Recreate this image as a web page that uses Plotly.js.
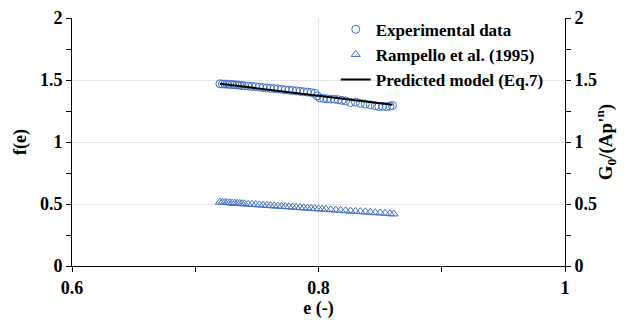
<!DOCTYPE html>
<html>
<head>
<meta charset="utf-8">
<script src="https://cdn.plot.ly/plotly-3.0.1.min.js"></script>
<style>html,body{margin:0;padding:0;background:#fff;}#chart{width:635px;height:320px;}</style>
</head>
<body>
<div id="chart"></div>
<script>
const expE = [0.720,0.722,0.724,0.726,0.728,0.730,0.732,0.734,0.736,0.738,0.740,0.743,0.746,0.749,0.752,0.755,0.758,0.761,0.764,0.767,0.770,0.773,0.776,0.779,0.782,0.785,0.788,0.791,0.794,0.797,0.799,0.801,0.804,0.807,0.810,0.813,0.816,0.819,0.822,0.826,0.830,0.834,0.838,0.842,0.846,0.849,0.852,0.855,0.858,0.860];
const expF = [1.470,1.468,1.467,1.466,1.465,1.463,1.461,1.460,1.458,1.455,1.453,1.451,1.448,1.446,1.442,1.439,1.436,1.433,1.431,1.428,1.425,1.421,1.418,1.415,1.412,1.409,1.405,1.402,1.399,1.393,1.372,1.355,1.351,1.348,1.346,1.345,1.341,1.336,1.331,1.318,1.322,1.312,1.306,1.300,1.292,1.286,1.288,1.285,1.290,1.294];
const ramE = [0.720,0.722,0.724,0.726,0.728,0.730,0.732,0.734,0.736,0.738,0.740,0.743,0.746,0.749,0.752,0.755,0.758,0.761,0.764,0.767,0.770,0.773,0.776,0.779,0.782,0.785,0.788,0.791,0.794,0.797,0.800,0.803,0.806,0.810,0.814,0.818,0.822,0.826,0.830,0.834,0.838,0.842,0.846,0.850,0.854,0.858,0.861];
const ramF = [0.515,0.514,0.513,0.511,0.510,0.508,0.507,0.506,0.504,0.503,0.501,0.499,0.497,0.495,0.493,0.491,0.489,0.487,0.485,0.483,0.481,0.479,0.477,0.475,0.473,0.471,0.469,0.467,0.465,0.463,0.461,0.459,0.457,0.454,0.451,0.449,0.446,0.443,0.441,0.438,0.436,0.433,0.430,0.428,0.425,0.422,0.420];
const modE = [0.720,0.860];
const modF = [1.470,1.300];

const serif = 'Liberation Serif, Times New Roman, serif';
const blue = '#4472C4';
const traces = [
  {x: expE, y: expF, type:'scatter', mode:'markers', name:'Experimental data',
   marker:{symbol:'circle-open', size:8, color:blue, line:{width:1}}},
  {x: ramE, y: ramF, type:'scatter', mode:'markers', name:'Rampello et al. (1995)',
   marker:{symbol:'triangle-up-open', size:8, color:blue, line:{width:1}}},
  {x: modE, y: modF, type:'scatter', mode:'lines', name:'Predicted model (Eq.7)',
   line:{color:'#000', width:2}},
  {x:[0.6], y:[0], yaxis:'y2', type:'scatter', mode:'markers', showlegend:false, hoverinfo:'skip', marker:{opacity:0}}
];
const tickFont = {family: serif, size:18, color:'#000', weight:'bold'};
const titleFont = {family: serif, size:18, color:'#000', weight:'bold'};
const layout = {
  width:635, height:320,
  margin:{l:72, r:70, t:18, b:54},
  paper_bgcolor:'#fff', plot_bgcolor:'#fff',
  font:{family: serif, color:'#000'},
  showlegend:true,
  legend:{x:0.535, y:1.025, xanchor:'left', yanchor:'top', bgcolor:'rgba(0,0,0,0)',
    font:{family: serif, size:17, color:'#000', weight:'bold'}, tracegroupgap:0, itemsizing:'trace'},
  xaxis:{range:[0.6,1.0], dtick:0.2, tick0:0.6, showline:true, linecolor:'#000', linewidth:1,
    ticks:'outside', ticklen:5, tickcolor:'#000', tickwidth:1,
    minor:{dtick:0.1, ticks:'outside', ticklen:5, tickcolor:'#000', showgrid:false},
    showgrid:true, gridcolor:'#e6e6e6', gridwidth:1, zeroline:false,
    tickfont:tickFont,
    title:{text:'e (-)', font:titleFont, standoff:0}},
  yaxis:{range:[0,2], dtick:0.5, showline:true, linecolor:'#000', linewidth:1,
    ticks:'outside', ticklen:5, tickcolor:'#000', tickwidth:1,
    minor:{dtick:0.25, ticks:'outside', ticklen:5, tickcolor:'#000', showgrid:false},
    showgrid:true, gridcolor:'#e6e6e6', gridwidth:1, zeroline:false,
    tickfont:tickFont,
    title:{text:'f(e)', font:titleFont, standoff:8}},
  yaxis2:{range:[0,2], dtick:0.5, overlaying:'y', side:'right', showline:true, linecolor:'#000', linewidth:1,
    ticks:'outside', ticklen:5, tickcolor:'#000', tickwidth:1,
    minor:{dtick:0.25, ticks:'outside', ticklen:5, tickcolor:'#000', showgrid:false},
    showgrid:false, zeroline:false, tickfont:tickFont,
    title:{text:"G<sub>0</sub>/(Ap'<sup>n</sup>)", font:{family: serif, size:19, color:'#000', weight:'bold'}, standoff:2}}
};
Plotly.newPlot('chart', traces, layout, {displayModeBar:false, staticPlot:true}).then(function(){
  document.querySelectorAll('.legend .scatterpts path').forEach(function(p){
    p.setAttribute('transform', (p.getAttribute('transform')||'') + ' scale(0.75)');
  });
});
</script>
</body>
</html>
